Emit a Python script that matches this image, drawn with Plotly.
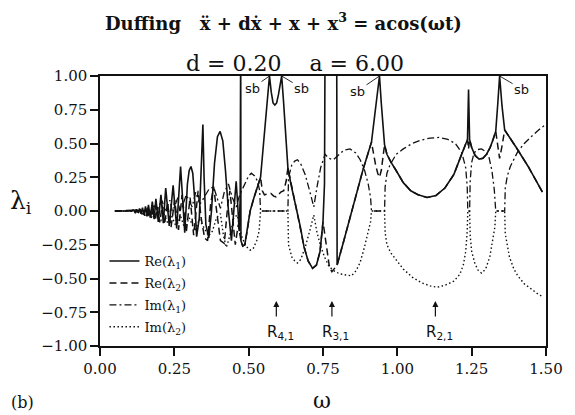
import plotly.graph_objects as go

# ---------------- data (omega, value) ----------------
re1_pts = [
    (0.05, 0), (0.105, 0), (0.112, 0.008), (0.117, -0.008), (0.123, 0.012), (0.128, -0.012),
    (0.133, 0.018), (0.138, -0.02), (0.143, 0.025), (0.148, -0.03), (0.153, 0.035), (0.158, -0.04),
    (0.163, 0.045), (0.169, -0.05), (0.176, 0.07), (0.182, -0.06), (0.188, 0.09), (0.196, -0.08),
    (0.205, 0.12), (0.213, -0.09), (0.221, 0.17), (0.233, -0.11), (0.246, 0.19), (0.258, -0.13),
    (0.271, 0.33), (0.278, 0.05), (0.285, -0.16), (0.294, 0.2), (0.300, 0.30), (0.306, 0.33),
    (0.312, 0.28), (0.318, 0.1), (0.325, -0.19), (0.334, -0.05), (0.341, 0.3), (0.346, 0.64),
    (0.350, 0.25), (0.356, -0.1), (0.366, -0.2), (0.375, 0.0), (0.385, 0.35), (0.395, 0.55),
    (0.404, 0.59), (0.413, 0.52), (0.422, 0.3), (0.432, 0.0), (0.442, -0.22), (0.451, 0.0),
    (0.458, 0.22), (0.463, 0.05), (0.468, -0.15), (0.4715, 0.1), (0.4722, 1.3), (0.4732, 1.3),
    (0.474, -0.22), (0.480, -0.26), (0.487, -0.25), (0.495, -0.15), (0.505, 0.0), (0.518, 0.10),
    (0.530, 0.18), (0.540, 0.25),
    (0.548, 0.45), (0.556, 0.65), (0.563, 0.85), (0.570, 1.0), (0.576, 0.88), (0.582, 0.80),
    (0.588, 0.785), (0.594, 0.80), (0.600, 0.86), (0.606, 0.95), (0.611, 1.0), (0.617, 0.82),
    (0.624, 0.6), (0.632, 0.32),
    (0.642, 0.2), (0.652, 0.106), (0.662, 0.0), (0.674, -0.12), (0.686, -0.264), (0.700, -0.37),
    (0.715, -0.425), (0.728, -0.40), (0.740, -0.30), (0.750, -0.08), (0.755, 0.2), (0.757, 1.3),
    (0.796, 1.3), (0.7975, -0.40), (0.82, -0.22), (0.85, 0.02), (0.885, 0.31), (0.913, 0.51),
    (0.925, 0.72), (0.934, 0.88), (0.940, 1.0), (0.946, 0.80), (0.952, 0.63), (0.957, 0.49),
    (0.965, 0.42), (0.979, 0.36), (0.996, 0.30), (1.02, 0.21), (1.045, 0.15), (1.07, 0.12),
    (1.10, 0.10), (1.13, 0.115), (1.16, 0.17), (1.19, 0.27), (1.211, 0.39), (1.228, 0.48),
    (1.236, 0.53), (1.2395, 0.90), (1.243, 0.53),
    (1.250, 0.47), (1.262, 0.41), (1.275, 0.385), (1.288, 0.39), (1.300, 0.42), (1.312, 0.47),
    (1.322, 0.53), (1.331, 0.59), (1.338, 0.80), (1.344, 1.0), (1.352, 0.78), (1.361, 0.60),
    (1.40, 0.47), (1.44, 0.33), (1.488, 0.14),
]

re2_pts = [
    (0.05, 0), (0.105, 0), (0.115, 0.005), (0.120, -0.012), (0.126, 0.008), (0.131, -0.018),
    (0.136, 0.01), (0.141, -0.025), (0.146, 0.012), (0.151, -0.035), (0.156, 0.015), (0.161, -0.045),
    (0.167, 0.02), (0.173, -0.055), (0.179, 0.025), (0.186, -0.07), (0.193, 0.03), (0.201, -0.085),
    (0.209, 0.04), (0.217, -0.10), (0.227, 0.06), (0.239, -0.12), (0.251, 0.08), (0.264, -0.14),
    (0.276, 0.12), (0.290, -0.16), (0.303, 0.10), (0.315, -0.18), (0.330, 0.15), (0.340, -0.05),
    (0.352, -0.20), (0.362, -0.22), (0.372, 0.05), (0.382, 0.18), (0.392, 0.0), (0.405, -0.22),
    (0.418, -0.24), (0.430, 0.05), (0.437, 0.15), (0.446, -0.05), (0.455, -0.25), (0.465, -0.10),
    (0.474, -0.22), (0.480, -0.26), (0.487, -0.25), (0.495, -0.15), (0.505, 0.0), (0.518, 0.10),
    (0.530, 0.18), (0.540, 0.25),
    (0.546, 0.15), (0.553, 0.12), (0.564, 0.125), (0.575, 0.13), (0.584, 0.11), (0.592, 0.105),
    (0.600, 0.12), (0.608, 0.14), (0.618, 0.15), (0.626, 0.22), (0.632, 0.32),
    (0.642, 0.2), (0.652, 0.106), (0.662, 0.0), (0.674, -0.12), (0.686, -0.264), (0.700, -0.37),
    (0.715, -0.425), (0.728, -0.40), (0.740, -0.30), (0.750, -0.08),
    (0.757, -0.20), (0.765, -0.34), (0.772, -0.42), (0.780, -0.45), (0.788, -0.43), (0.7975, -0.40),
    (0.82, -0.22), (0.85, 0.02), (0.885, 0.31), (0.913, 0.51),
    (0.920, 0.42), (0.927, 0.34), (0.934, 0.28), (0.940, 0.25), (0.946, 0.30), (0.952, 0.39),
    (0.957, 0.49),
    (0.965, 0.42), (0.979, 0.36), (0.996, 0.30), (1.02, 0.21), (1.045, 0.15), (1.07, 0.12),
    (1.10, 0.10), (1.13, 0.115), (1.16, 0.17), (1.19, 0.27), (1.211, 0.39), (1.228, 0.48),
    (1.236, 0.53), (1.2395, 0.46), (1.243, 0.53),
    (1.250, 0.47), (1.262, 0.41), (1.275, 0.385), (1.288, 0.39), (1.300, 0.42), (1.312, 0.47),
    (1.322, 0.53), (1.331, 0.59), (1.338, 0.48), (1.344, 0.39), (1.352, 0.48), (1.361, 0.60),
    (1.40, 0.47), (1.44, 0.33), (1.488, 0.14),
]

im1_pts = [
    (0.05, 0), (0.105, 0), (0.118, 0.008), (0.13, 0.0), (0.142, 0.015), (0.152, 0.0),
    (0.162, 0.025), (0.172, 0.0), (0.182, 0.04), (0.192, 0.0), (0.20, 0.05), (0.21, 0.07),
    (0.217, 0.0), (0.225, 0.02), (0.235, 0.08), (0.243, 0.0), (0.25, 0.03), (0.262, 0.10),
    (0.268, 0.0), (0.275, 0.02), (0.29, 0.12), (0.31, 0.03), (0.322, 0.14), (0.336, 0.05),
    (0.350, 0.10), (0.366, 0.16), (0.382, 0.18), (0.395, 0.08), (0.405, 0.02), (0.418, 0.14),
    (0.432, 0.20), (0.445, 0.10), (0.458, 0.03), (0.470, 0.12), (0.487, 0.20), (0.500, 0.26),
    (0.509, 0.28), (0.520, 0.26), (0.530, 0.22), (0.537, 0.15), (0.540, 0.0), (0.632, 0.0),
    (0.634, 0.25), (0.645, 0.34), (0.655, 0.37), (0.664, 0.38), (0.675, 0.35), (0.690, 0.27),
    (0.705, 0.15), (0.719, 0.03), (0.730, 0.18), (0.742, 0.32), (0.757, 0.42), (0.770, 0.39),
    (0.785, 0.38), (0.800, 0.41), (0.820, 0.45), (0.841, 0.46), (0.860, 0.43), (0.875, 0.38),
    (0.890, 0.30), (0.902, 0.20), (0.910, 0.10), (0.913, 0.0), (0.957, 0.0),
    (0.959, 0.18), (0.965, 0.28), (0.975, 0.34), (0.996, 0.42), (1.02, 0.46), (1.05, 0.50),
    (1.08, 0.525), (1.11, 0.54), (1.14, 0.545), (1.17, 0.53), (1.195, 0.50), (1.217, 0.43),
    (1.230, 0.32), (1.235, 0.18), (1.237, 0.0), (1.243, 0.0),
    (1.245, 0.22), (1.250, 0.36), (1.258, 0.43), (1.270, 0.455), (1.283, 0.46), (1.297, 0.44),
    (1.308, 0.40), (1.318, 0.30), (1.326, 0.16), (1.331, 0.0), (1.361, 0.0),
    (1.363, 0.17), (1.370, 0.26), (1.380, 0.33), (1.405, 0.44), (1.427, 0.50), (1.45, 0.55),
    (1.475, 0.60), (1.499, 0.64),
]

im2_pts = [
    (0.05, 0), (0.105, 0), (0.118, -0.01), (0.13, 0.0), (0.142, -0.02), (0.152, 0.0),
    (0.16, -0.03), (0.17, 0.0), (0.18, -0.045), (0.19, -0.01), (0.198, -0.06), (0.205, -0.07),
    (0.215, -0.02), (0.228, -0.09), (0.24, -0.03), (0.255, -0.11), (0.27, -0.03), (0.285, -0.13),
    (0.30, -0.05), (0.32, -0.15), (0.334, -0.06), (0.350, -0.12), (0.365, -0.185), (0.378, -0.15),
    (0.392, -0.05), (0.405, -0.02), (0.415, -0.18), (0.425, -0.27), (0.437, -0.18), (0.45, -0.05),
    (0.462, -0.03), (0.475, -0.18), (0.490, -0.26), (0.505, -0.29), (0.515, -0.28), (0.527, -0.22),
    (0.535, -0.15), (0.540, 0.0), (0.632, 0.0),
    (0.634, -0.25), (0.645, -0.34), (0.655, -0.37), (0.664, -0.385), (0.675, -0.36), (0.690, -0.27),
    (0.705, -0.15), (0.719, -0.03), (0.730, -0.16), (0.742, -0.26), (0.755, -0.34), (0.770, -0.41),
    (0.785, -0.44), (0.805, -0.465), (0.83, -0.475), (0.846, -0.48), (0.862, -0.44), (0.875, -0.38),
    (0.888, -0.28), (0.900, -0.18), (0.910, -0.08), (0.913, 0.0), (0.957, 0.0),
    (0.959, -0.16), (0.965, -0.25), (0.978, -0.31), (0.996, -0.36), (1.02, -0.43), (1.05, -0.49),
    (1.08, -0.53), (1.11, -0.555), (1.134, -0.565), (1.16, -0.55), (1.19, -0.52), (1.21, -0.47),
    (1.222, -0.40), (1.230, -0.30), (1.235, -0.15), (1.237, 0.0), (1.243, 0.0),
    (1.245, -0.18), (1.250, -0.30), (1.261, -0.39), (1.272, -0.44), (1.283, -0.46), (1.297, -0.43),
    (1.311, -0.34), (1.322, -0.20), (1.328, -0.12), (1.331, 0.0), (1.361, 0.0),
    (1.363, -0.17), (1.370, -0.27), (1.377, -0.34), (1.392, -0.43), (1.405, -0.48), (1.427, -0.54),
    (1.45, -0.58), (1.47, -0.61), (1.488, -0.635),
]

series_names = ["Re(λ<sub>1</sub>)", "Re(λ<sub>2</sub>)", "Im(λ<sub>1</sub>)", "Im(λ<sub>2</sub>)"]

x_tick_vals = [0.0, 0.25, 0.5, 0.75, 1.0, 1.25, 1.5]
x_tick_text = ["0.00", "0.25", "0.50", "0.75", "1.00", "1.25", "1.50"]
y_tick_vals = [-1.0, -0.75, -0.5, -0.25, 0.0, 0.25, 0.5, 0.75, 1.0]
y_tick_text = ["−1.00", "−0.75", "−0.50", "−0.25", "0.00", "0.25", "0.50", "0.75", "1.00"]

sb_peaks = [(0.570, 1.0), (0.611, 1.0), (0.940, 1.0), (1.344, 1.0)]
r_marks = [(0.593, "R<sub>4,1</sub>"), (0.780, "R<sub>3,1</sub>"), (1.128, "R<sub>2,1</sub>")]

# ---------------- figure ----------------
INK = "#111111"
SERIF = "DejaVu Serif"
SANS = "DejaVu Sans"

styles = [
    dict(color=INK, width=1.6),
    dict(color=INK, width=1.5, dash="7px,4px"),
    dict(color=INK, width=1.3, dash="7px,3px,2px,3px"),
    dict(color=INK, width=1.4, dash="1.5px,2.5px"),
]

fig = go.Figure()
for i, pts in enumerate([re1_pts, re2_pts, im1_pts, im2_pts]):
    fig.add_trace(go.Scatter(
        x=[p[0] for p in pts], y=[p[1] for p in pts], mode="lines",
        name=series_names[i], line=styles[i], legendgroup=f"g{i}",
        hoverinfo="skip",
    ))

axis_common = dict(showline=True, linewidth=1.5, linecolor=INK, mirror=True, ticks="outside",
                   ticklen=8, tickwidth=1.5, tickcolor=INK, showgrid=False, zeroline=False,
                   tickfont=dict(family=SERIF, size=15, color=INK))
fig.update_xaxes(range=[0, 1.5], tickvals=x_tick_vals, ticktext=x_tick_text, **axis_common)
fig.update_yaxes(range=[-1, 1], tickvals=y_tick_vals, ticktext=y_tick_text, **axis_common)

annotations = [
    dict(xref="paper", yref="paper", x=0.411, y=1.2, xanchor="center", yanchor="middle",
         showarrow=False,
         text="<b>Duffing\u00a0\u00a0\u00a0ẍ + dẋ + x + x<sup>3</sup> = acos(ωt)</b>",
         font=dict(family=SERIF, size=18, color=INK)),
    dict(xref="paper", yref="paper", x=0.437, y=1.048, xanchor="center", yanchor="middle",
         showarrow=False,
         text="d = 0.20\u00a0\u00a0\u00a0\u00a0a = 6.00",
         font=dict(family=SERIF, size=22, color=INK)),
    dict(xref="paper", yref="paper", x=-0.177, y=0.535, xanchor="center", yanchor="middle",
         showarrow=False, text="λ<sub>i</sub>", font=dict(family=SERIF, size=25, color=INK)),
    dict(xref="paper", yref="paper", x=0.498, y=-0.2, xanchor="center", yanchor="middle",
         showarrow=False, text="ω", font=dict(family=SERIF, size=22, color=INK)),
    dict(xref="paper", yref="paper", x=-0.205, y=-0.252, xanchor="left", yanchor="bottom",
         showarrow=False, text="(b)", font=dict(family=SERIF, size=16, color=INK)),
]
sb_offsets = [(-17, 12), (20, 12), (-22, 15), (22, 13)]
for (px, py), (ax, ay) in zip(sb_peaks, sb_offsets):
    annotations.append(dict(x=px, y=py, xref="x", yref="y", text="sb", showarrow=True,
                            arrowhead=0, arrowwidth=0.9, arrowcolor=INK, ax=ax, ay=ay,
                            font=dict(family=SANS, size=13, color=INK)))
for rx, label in r_marks:
    annotations.append(dict(x=rx, y=-0.667, xref="x", yref="y", text="", showarrow=True,
                            arrowhead=2, arrowsize=1, arrowwidth=1.2, arrowcolor=INK, ax=0, ay=17))
    annotations.append(dict(x=rx + 0.013, y=-0.9, xref="x", yref="y", text=label, showarrow=False,
                            xanchor="center", yanchor="middle",
                            font=dict(family=SANS, size=15, color=INK)))

fig.update_layout(
    width=575, height=415,
    margin=dict(l=100, r=23, t=76, b=69),
    paper_bgcolor="white", plot_bgcolor="white",
    showlegend=True,
    legend=dict(x=0.01, y=0.37, xanchor="left", yanchor="top", bgcolor="rgba(0,0,0,0)",
                font=dict(family=SERIF, size=13, color=INK), tracegroupgap=2, itemwidth=30),
    annotations=annotations,
)

fig.write_html("out.html")
